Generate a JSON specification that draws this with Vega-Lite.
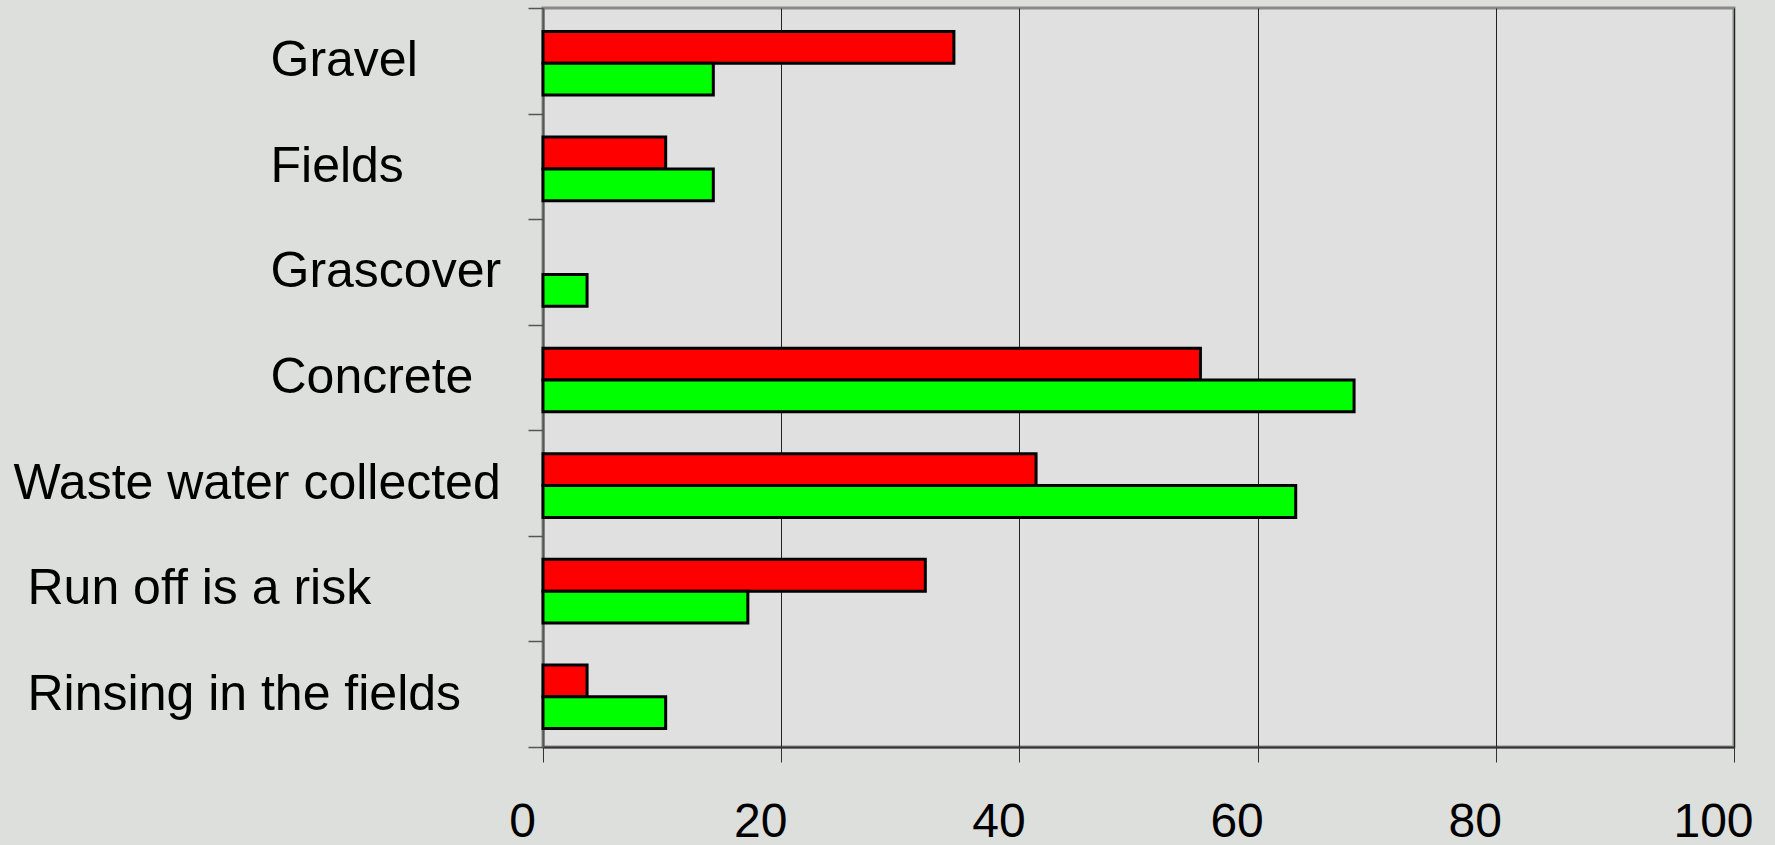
{
  "$schema": "https://vega.github.io/schema/vega-lite/v6.json",
  "autosize": {"type": "none"},
  "padding": {"left": 543, "top": 8, "right": 41, "bottom": 98},
  "width": 1191,
  "height": 739,
  "background": "#dcdfdb",
  "config": {
    "font": "Liberation Sans",
    "view": {"stroke": "#8a8a8a", "strokeWidth": 3, "fill": "#e0e0e0"}
  },
  "data": {
    "values": [
      {"category": "Gravel", "series": "Series 1", "value": 34.5},
      {"category": "Gravel", "series": "Series 2", "value": 14.3},
      {"category": "Fields", "series": "Series 1", "value": 10.3},
      {"category": "Fields", "series": "Series 2", "value": 14.3},
      {"category": "Grascover", "series": "Series 1", "value": 0},
      {"category": "Grascover", "series": "Series 2", "value": 3.7},
      {"category": "Concrete", "series": "Series 1", "value": 55.2},
      {"category": "Concrete", "series": "Series 2", "value": 68.1},
      {"category": "Waste water collected", "series": "Series 1", "value": 41.4},
      {"category": "Waste water collected", "series": "Series 2", "value": 63.2},
      {"category": "Run off is a risk", "series": "Series 1", "value": 32.1},
      {"category": "Run off is a risk", "series": "Series 2", "value": 17.2},
      {"category": "Rinsing in the fields", "series": "Series 1", "value": 3.7},
      {"category": "Rinsing in the fields", "series": "Series 2", "value": 10.3}
    ]
  },
  "transform": [{"filter": "datum.value > 0"}],
  "mark": {"type": "bar", "stroke": "black", "strokeWidth": 3},
  "encoding": {
    "y": {
      "field": "category",
      "type": "nominal",
      "sort": ["Gravel", "Fields", "Grascover", "Concrete", "Waste water collected", "Run off is a risk", "Rinsing in the fields"],
      "scale": {"domain": ["Gravel", "Fields", "Grascover", "Concrete", "Waste water collected", "Run off is a risk", "Rinsing in the fields"], "paddingInner": 0, "paddingOuter": 0},
      "axis": {
        "title": null,
        "domainColor": "#555555",
        "domainWidth": 2,
        "tickColor": "#555555",
        "tickWidth": 1.5,
        "tickSize": 15,
        "tickBand": "extent",
        "grid": false,
        "labelFontSize": 50,
        "labelColor": "black",
        "labelLimit": 0,
        "labelAlign": "left",
        "labelPadding": {
          "condition": [
            {"test": "datum.value === 'Waste water collected'", "value": 515},
            {"test": "datum.value === 'Run off is a risk' || datum.value === 'Rinsing in the fields'", "value": 501}
          ],
          "value": 258
        }
      }
    },
    "yOffset": {"field": "series", "type": "nominal", "scale": {"domain": ["Series 1", "Series 2"], "paddingInner": 0, "paddingOuter": 0.66, "align": 0.56}},
    "x": {
      "field": "value",
      "type": "quantitative",
      "scale": {"domain": [0, 100], "nice": false},
      "axis": {
        "title": null,
        "values": [0, 20, 40, 60, 80, 100],
        "domainColor": "#333333",
        "domainWidth": 2,
        "tickColor": "#333333",
        "tickWidth": 1,
        "tickSize": 15,
        "grid": true,
        "gridColor": "#222222",
        "gridWidth": 1,
        "labelFontSize": 48,
        "labelColor": "black",
        "labelPadding": 36,
        "labelOffset": -21,
        "labelFlush": false
      }
    },
    "fill": {
      "field": "series",
      "type": "nominal",
      "scale": {"domain": ["Series 1", "Series 2"], "range": ["#ff0000", "#00ff00"]},
      "legend": null
    }
  }
}
